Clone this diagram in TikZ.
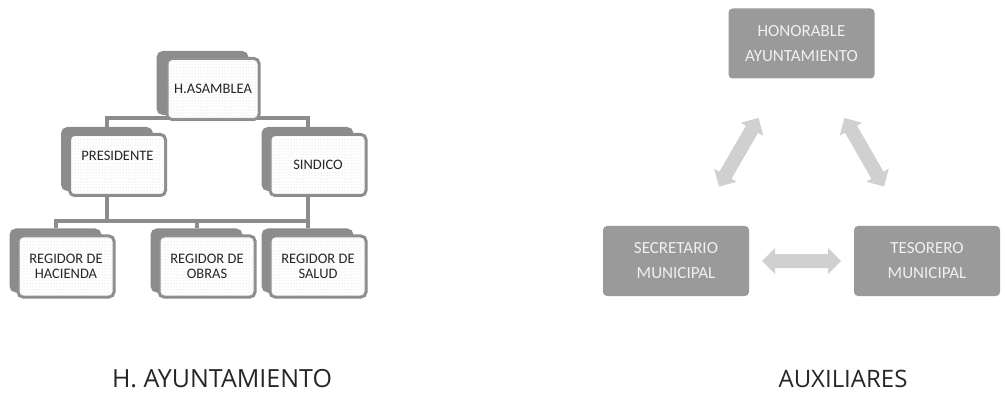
\documentclass[tikz,border=0pt]{standalone}
\usepackage{fontspec}
\setmainfont{Carlito}
\newfontfamily\titlefont{Open Sans}
\usepackage{xcolor}
\usepackage{tikz}
\usetikzlibrary{patterns,backgrounds,calc}
\definecolor{framegray}{HTML}{8C8C8C}
\definecolor{boxgray}{HTML}{9A9A9A}
\definecolor{arrowgray}{HTML}{D0D0D0}
\definecolor{textgray}{HTML}{262626}
\tikzset{
  orgbox/.style={
      draw=framegray,
      line width=3pt,
      rounded corners=5pt,
      fill=white,
      postaction={pattern=dots, pattern color=gray!35},
      minimum width=96pt,
      minimum height=61pt,
      text=textgray,
      align=center,
      font=\fontsize{14.5}{15}\selectfont
    },
  orgback/.style={
      draw=framegray,
      fill=framegray,
      line width=3pt,
      rounded corners=5pt,
      minimum width=89pt,
      minimum height=61pt
    },
  conn/.style={draw=framegray, line width=4pt},
  auxbox/.style={
      fill=boxgray,
      rounded corners=4pt,
      minimum width=146pt,
      minimum height=70pt,
      text=white!94!black,
      align=center,
      font=\fontsize{17}{25}\selectfont
    },
  caption/.style={font=\titlefont\fontsize{24}{28}\selectfont, text=textgray}
}
% block arrow with a head at both ends, between two nodes
\newcommand\twoway[2]{%
  \coordinate (#1-#2-a) at ($(#1)!86pt!(#2)$);
  \coordinate (#1-#2-b) at ($(#2)!86pt!(#1)$);
  \fill[arrowgray]
    (#1-#2-a) -- ($(#1-#2-a)!13pt!(#1-#2-b)!13pt!90:(#1-#2-b)$)
    -- ($(#1-#2-a)!13pt!(#1-#2-b)!7pt!90:(#1-#2-b)$)
    -- ($(#1-#2-b)!13pt!(#1-#2-a)!7pt!-90:(#1-#2-a)$)
    -- ($(#1-#2-b)!13pt!(#1-#2-a)!13pt!-90:(#1-#2-a)$)
    -- (#1-#2-b) -- ($(#1-#2-b)!13pt!(#1-#2-a)!13pt!90:(#1-#2-a)$)
    -- ($(#1-#2-b)!13pt!(#1-#2-a)!7pt!90:(#1-#2-a)$)
    -- ($(#1-#2-a)!13pt!(#1-#2-b)!7pt!-90:(#1-#2-b)$)
    -- ($(#1-#2-a)!13pt!(#1-#2-b)!13pt!-90:(#1-#2-b)$) -- cycle;
}

\begin{document}
\begin{tikzpicture}[x=1pt,y=-1pt]
\useasboundingbox (0,0) rectangle (1005,401);
% the org chart
\node[orgbox,minimum width=92pt] at (213,89) (asm) {H.ASAMBLEA};
\node[orgbox] at (117.5,165) (pres) {\raisebox{5pt}[0pt][0pt]{PRESIDENTE}};
\node[orgbox] at (318,165) (sind) {SINDICO};
\node[orgbox] at (66,266.5) (hac) {REGIDOR DE\\HACIENDA};
\node[orgbox] at (207,266.5) (obr) {REGIDOR DE\\OBRAS};
\node[orgbox] at (318,266.5) (sal) {REGIDOR DE\\SALUD};

\begin{scope}[on background layer]
\foreach \Box in {asm,pres,sind,hac,obr,sal}
  \node[orgback] at ($(\Box)+(-10.5,-6)$) (\Box B) {};
\coordinate (bus) at ($(hacB.north)+(0,-7)$);
%the connectors
\draw[conn] (presB.north) |- ([yshift=3pt]asm.south) -| (sindB.north);
\draw[conn] (hacB.north) -- (bus) -| (sindB.center);
\draw[conn] (presB.center) -- (presB.center |- bus);
\draw[conn] (obrB.north) -- (obrB.north |- bus);
\draw[conn] (sindB.center) -- (salB.north);
\end{scope}

% the auxiliaries
\node[auxbox] at (801.5,43.5) (hon) {HONORABLE\\AYUNTAMIENTO};
\node[auxbox] at (676,261) (sec) {SECRETARIO\\MUNICIPAL};
\node[auxbox] at (927,261) (tes) {TESORERO\\MUNICIPAL};
\twoway{sec}{hon}
\twoway{tes}{hon}
\twoway{sec}{tes}

% the captions
\node[caption,font=\titlefont\fontsize{25}{28}\selectfont] at (222,379) (hay) {H. AYUNTAMIENTO};
\node[caption] at (843,379) (aux) {AUXILIARES};
\end{tikzpicture}
\end{document}
